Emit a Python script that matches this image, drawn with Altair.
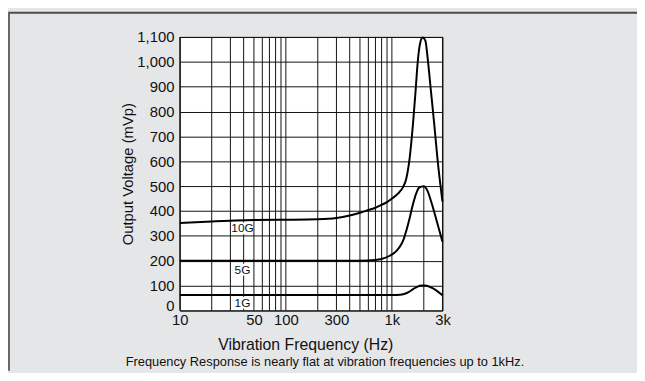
import altair as alt
import pandas as pd

# ---- data ----
freq_10g = [10, 20, 30, 50, 100, 200, 300, 400, 500, 600, 700, 800, 900, 1000, 1140, 1270,
            1366, 1468, 1576, 1668, 1753, 1846, 1950, 2069, 2174, 2338, 2508, 2692, 3000]
val_10g = [352, 358, 361, 364, 365, 367, 372, 382, 393, 404, 413, 425, 436, 450, 470, 495,
           530, 610, 743, 875, 1000, 1075, 1098, 1085, 1015, 880, 750, 610, 438]

freq_5g = [10, 100, 500, 700, 800, 955, 1107, 1224, 1300, 1366, 1468, 1576, 1693, 1808,
           1990, 2174, 2338, 2600, 3000]
val_5g = [200, 200, 200, 203, 207, 220, 240, 265, 290, 320, 370, 425, 470, 494,
          500, 480, 440, 372, 276]

freq_1g = [10, 1000, 1200, 1300, 1450, 1600, 1750, 1900, 2050, 2300, 2600, 3000]
val_1g = [62, 62, 63, 66, 75, 87, 96, 100, 100, 94, 82, 61]

series_names = ["10G", "5G", "1G"]
label_freq = [39, 39, 39]
label_val = [330, 164, 31]

grid_freqs = [10, 20, 30, 40, 50, 60, 70, 80, 90, 100, 200, 300, 400, 500, 600, 700,
              800, 900, 1000, 2000, 3000]
grid_tops = [1100, 1100, 1100, 1100, 1100, 1100, 1100, 1100, 1100, 1100, 1100, 1100,
             1100, 1100, 1100, 1100, 1100, 1100, 1100, 500, 1100]

x_tick_values = [10, 50, 100, 300, 1000, 3000]
x_tick_labels = ["10", "50", "100", "300", "1k", "3k"]
y_tick_values = [0, 100, 200, 300, 400, 500, 600, 700, 800, 900, 1000, 1100]

x_title = "Vibration Frequency (Hz)"
y_title = "Output Voltage (mVp)"
caption = "Frequency Response is nearly flat at vibration frequencies up to 1kHz."

FONT = "Liberation Sans, Arial, Helvetica, sans-serif"
NARROW = "Liberation Sans Narrow, Arial Narrow, Liberation Sans, Arial, sans-serif"
INK = "#111111"

# ---- tables ----
curves = pd.concat([
    pd.DataFrame({"freq": freq_10g, "val": val_10g, "series": "10G"}),
    pd.DataFrame({"freq": freq_5g, "val": val_5g, "series": "5G"}),
    pd.DataFrame({"freq": freq_1g, "val": val_1g, "series": "1G"}),
])
labels = pd.DataFrame({"freq": label_freq, "val": label_val, "name": series_names})
grid = pd.DataFrame({"freq": grid_freqs, "val": [0] * len(grid_freqs), "top": grid_tops})

label_map = "{" + ",".join(f"'{v}':'{t}'" for v, t in zip(x_tick_values, x_tick_labels)) + "}"

xscale = alt.Scale(type="log", domain=[10, 3000], nice=False)
yscale = alt.Scale(domain=[0, 1100], nice=False)

x_axis = alt.Axis(
    values=x_tick_values, labelExpr=f"{label_map}[datum.value + '']",
    grid=False, ticks=False, domain=False, labelFontSize=15, labelFont=FONT,
    labelColor=INK, labelPadding=2, labelFlush=False,
    title=x_title, titleFontSize=16, titleFont=FONT, titleFontWeight="normal",
    titleColor=INK, titleX=127, titleY=40, titleAlign="center", titleBaseline="alphabetic",
)
y_axis = alt.Axis(
    values=y_tick_values, labelExpr="format(datum.value, ',')",
    grid=True, gridColor=INK, gridWidth=1, gridOpacity=1,
    ticks=False, domain=False, labelFontSize=15, labelFont=FONT, labelColor=INK,
    labelPadding=6, labelFlush=False,
    labelBaseline={"condition": {"test": "datum.value == 0", "value": "alphabetic"},
                   "value": "middle"},
    title=y_title, titleFontSize=15, titleFont=FONT, titleFontWeight="normal",
    titleColor=INK, titleX=-53, titleY=138.5, titleAlign="center", titleBaseline="middle",
    titleAngle=270,
)

X = alt.X("freq:Q", scale=xscale, axis=x_axis)
Y = alt.Y("val:Q", scale=yscale, axis=y_axis)

vgrid = alt.Chart(grid).mark_rule(color=INK, strokeWidth=1).encode(x=X, y=Y, y2="top:Q")

boxes = alt.Chart(labels).mark_point(
    shape="M-1,-0.6H1V0.6H-1Z", size=400, filled=True, fill="white",
    opacity=1, strokeWidth=0,
).encode(x=X, y=Y)

lines = alt.Chart(curves).mark_line(color="black", strokeWidth=2, interpolate="monotone").encode(
    x=X, y=Y, detail="series:N",
)

texts = alt.Chart(labels).mark_text(font=NARROW, fontSize=12, color=INK, baseline="middle").encode(
    x=X, y=Y, text="name:N",
)

frame_src = pd.DataFrame({"k": [0]})
frame_top = alt.Chart(frame_src).mark_rule(color="#4d4d4d", strokeWidth=2).encode(
    x=alt.value(-174), x2=alt.value(463), y=alt.value(-24.5)
)
frame_left = alt.Chart(frame_src).mark_rule(color="#666666", strokeWidth=2).encode(
    x=alt.value(-173), y=alt.value(-25), y2=alt.value(338)
)

chart = alt.layer(vgrid, boxes, lines, texts, frame_top, frame_left).properties(
    width=266, height=277,
    autosize=alt.AutoSizeParams(type="none"),
    padding={"left": 174, "top": 27, "right": 197, "bottom": 61},
    background="#e5e6e8",
    title=alt.TitleParams(
        text=caption, orient="bottom", anchor="middle", frame="group",
        fontSize=13, fontWeight="normal", font=FONT, color=INK, offset=0, dx=14, dy=-16,
    ),
).configure_view(fill="white", stroke="black", strokeWidth=1)

chart.save("out.html", embed_options={"renderer": "svg", "actions": False})
